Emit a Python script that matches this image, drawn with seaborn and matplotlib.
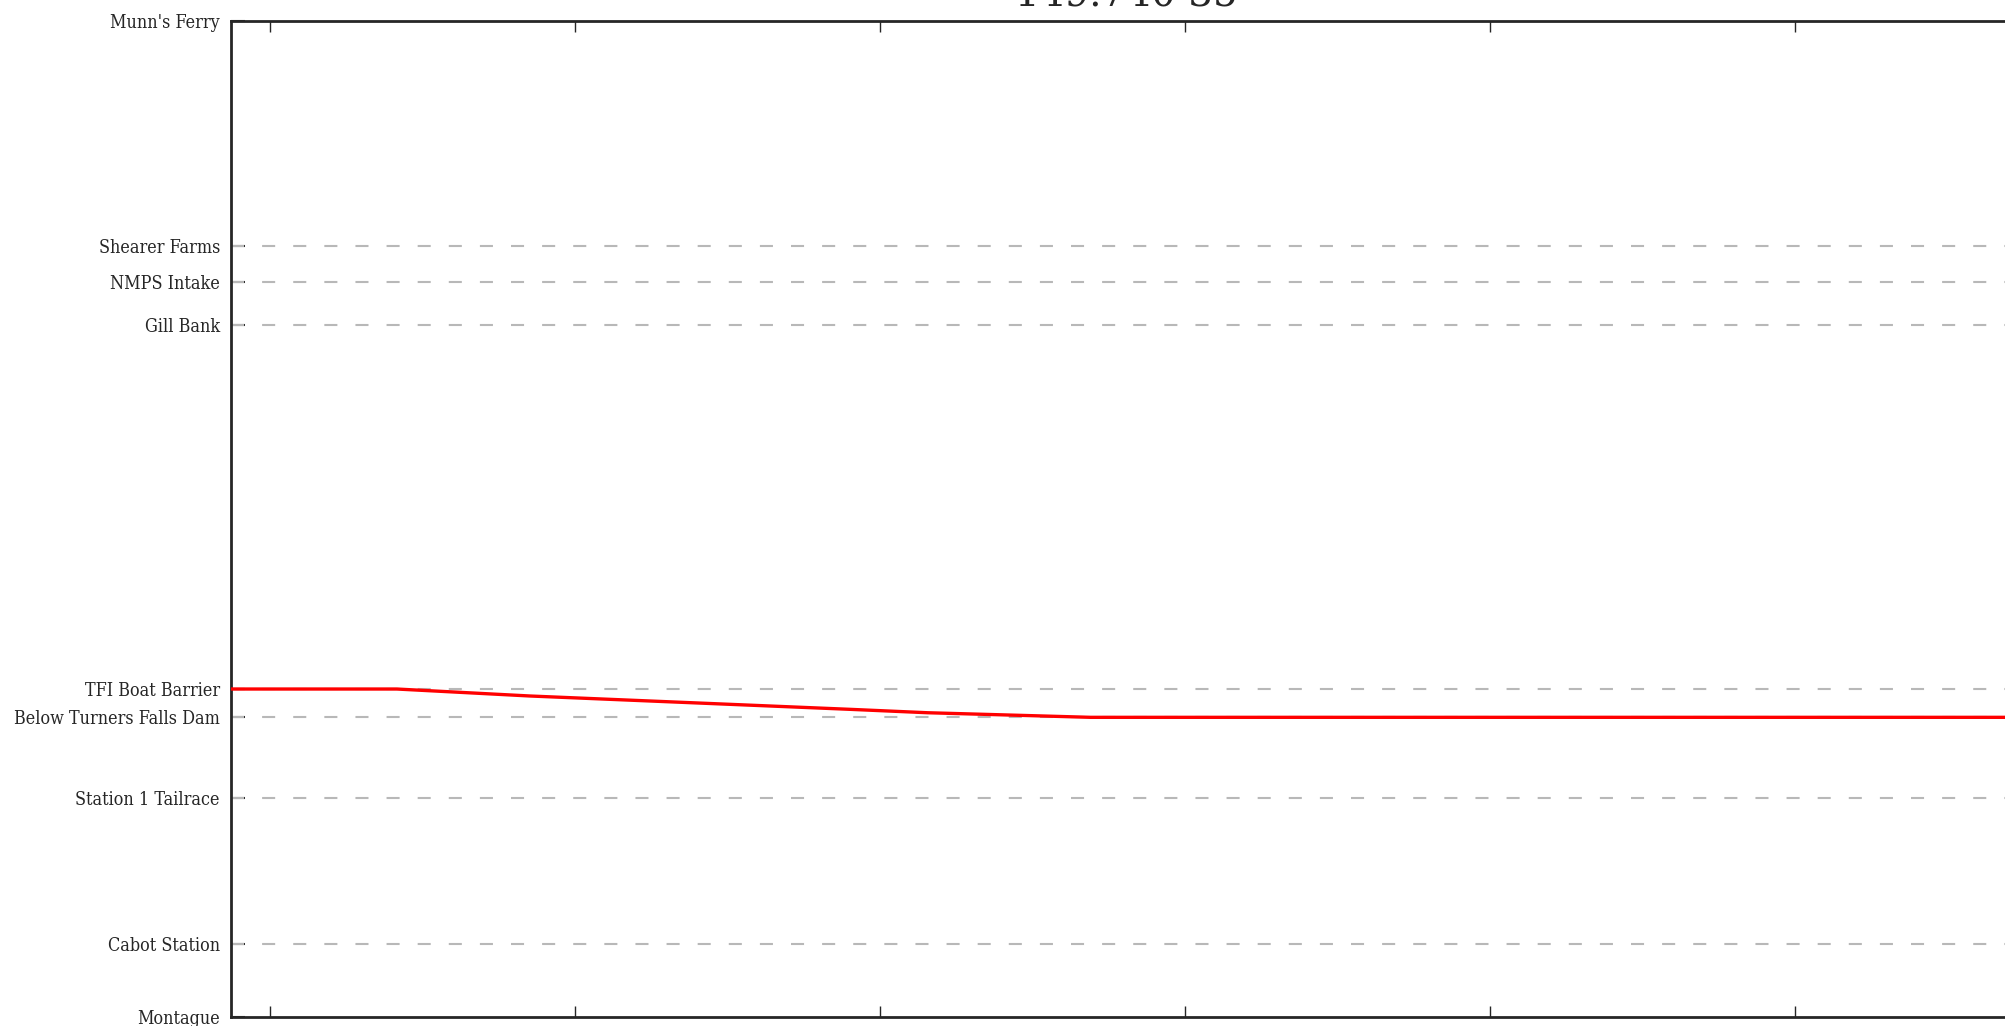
import numpy as np
import pandas as pd
import matplotlib
matplotlib.use("Agg")
import matplotlib.pyplot as plt
import matplotlib.dates as mdates
import seaborn as sns

# sitios (posicion en el eje y, unidades relativas Montague=0, Munn's Ferry=100)
sitios = ["Montague", "Cabot Station", "Station 1 Tailrace", "Below Turners Falls Dam",
          "TFI Boat Barrier", "Gill Bank", "NMPS Intake", "Shearer Farms", "Munn's Ferry"]
posiciones = [0.0, 7.32, 21.97, 30.10, 32.94, 69.44, 73.81, 77.39, 100.0]

# track del pez
tiempos = ["2015-05-20 14:04:22", "2015-05-20 14:07:05", "2015-05-20 14:09:16",
           "2015-05-20 14:14:31", "2015-05-20 14:15:47", "2015-05-20 14:18:27",
           "2015-05-20 14:33:42"]
track = [32.94, 32.94, 32.24, 30.90, 30.56, 30.10, 30.10]
titulo = "149.740 35"

df = pd.DataFrame({"tiempo": pd.to_datetime(tiempos), "pos": track})

sns.set_style("ticks")
plt.rcParams["font.family"] = ["DejaVu Serif"]

fig = plt.figure(figsize=(20.06, 10.26), dpi=100)
ax = fig.add_axes([231 / 2006, 8.7 / 1026, 1790 / 2006, 996.6 / 1026])

# lineas de referencia en cada sitio
for p in posiciones[1:-1]:
    ax.axhline(p, color="#b8b8b8", lw=1.5, dashes=(9.4 / 1.5, 13 / 1.5), zorder=1)

sns.lineplot(data=df, x="tiempo", y="pos", color="red", lw=2.4, ax=ax, zorder=3)

ax.set_xlim(df["tiempo"].iloc[0], df["tiempo"].iloc[-1])
ax.set_ylim(posiciones[0], posiciones[-1])
ax.set_yticks(posiciones)
ax.set_yticklabels(sitios, fontsize=12.9, fontstretch="condensed")
ax.xaxis.set_major_locator(mdates.MinuteLocator(byminute=range(0, 60, 5)))
ax.set_xlabel("")
ax.set_ylabel("")
ax.tick_params(axis="x", direction="in", top=True, bottom=True, length=8, width=1,
               labelbottom=False)
ax.tick_params(axis="y", direction="in", left=True, right=True, length=10, width=1.5,
               pad=8)
for s in ax.spines.values():
    s.set_linewidth(2)
    s.set_visible(True)
ax.set_title(titulo, fontsize=28, pad=10)

fig.savefig("out.png", dpi=100)
